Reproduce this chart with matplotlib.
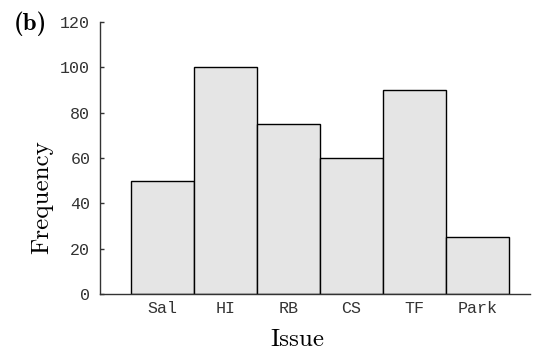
import matplotlib
matplotlib.use("Agg")
import matplotlib.pyplot as plt
import numpy as np

issues = ["Sal", "HI", "RB", "CS", "TF", "Park"]
frequency = [50, 100, 75, 60, 90, 25]
y_ticks = [0, 20, 40, 60, 80, 100, 120]


def main():
    W, H = 533, 350
    fig = plt.figure(figsize=(W / 100, H / 100), dpi=100)
    ax = fig.add_axes([0.1876, 0.16, 0.806, 0.777])

    x = np.arange(len(issues))
    ax.bar(x, frequency, width=1.0, color="#e5e5e5", edgecolor="black", linewidth=1.0)

    ax.set_xlim(-0.99, 5.83)
    ax.set_ylim(0, 120)
    ax.set_yticks(y_ticks)
    ax.set_xticks(x)
    ax.set_xticklabels(issues)

    for side in ["top", "right"]:
        ax.spines[side].set_visible(False)
    for side in ["left", "bottom"]:
        ax.spines[side].set_color("#333333")
        ax.spines[side].set_linewidth(1.0)

    ax.tick_params(axis="y", direction="in", length=3, width=1, color="#333333",
                   pad=7, labelsize=12, labelcolor="#333333")
    ax.tick_params(axis="x", length=0, pad=5, labelsize=12, labelcolor="#333333")
    for lab in ax.get_xticklabels() + ax.get_yticklabels():
        lab.set_family("Liberation Mono")

    # axis labels and panel letter placed by hand
    fig.text(48 / W, 1 - 197.5 / H, "Frequency", family="cmr10", fontsize=18,
             rotation=90, rotation_mode="anchor", ha="center", va="baseline")
    fig.text(297 / W, 1 - 346 / H, "Issue", family="cmr10", fontsize=18,
             ha="center", va="baseline")
    fig.text(30 / W, 1 - 24 / H, "(b)", family="cmb10", fontsize=18,
             ha="center", va="center")

    fig.savefig("out.png", dpi=100)


if __name__ == '__main__':
    main()
